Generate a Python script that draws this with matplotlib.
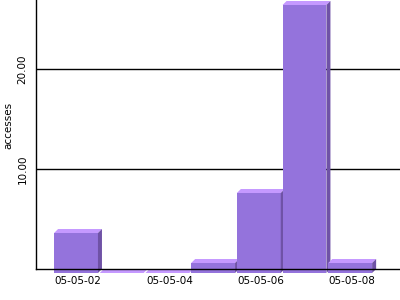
import matplotlib
matplotlib.use("Agg")
import matplotlib.pyplot as plt
from matplotlib.patches import Polygon, Rectangle

dates = ["05-05-02", "05-05-03", "05-05-04", "05-05-05", "05-05-06", "05-05-07", "05-05-08"]
accesses = [4, 0, 0, 1, 8, 26.8, 1]
y_ticks = [10, 20]

front = "#9473dc"
top = "#c599ff"
side = "#6f52a6"

fig = plt.figure(figsize=(4, 3), dpi=100)
ax = fig.add_axes([0.09, 31 / 300, 0.91, 269 / 300])
ax.set_xlim(-0.876, 7.09)
ax.set_ylim(0, 26.9)

# 3d depth, 4px each way
dx = 4 / 45.67
dy = 0.4
w = 0.96
for i, v in enumerate(accesses):
    x0 = i - w / 2
    x1 = i + w / 2
    ax.add_patch(Rectangle((x0, -dy), w, v, facecolor=front, edgecolor="none",
                           clip_on=False, zorder=2))
    ax.add_patch(Polygon([(x0, v - dy), (x0 + dx, v), (x1 + dx, v), (x1, v - dy)],
                         facecolor=top, edgecolor="none", clip_on=False, zorder=2))
    ax.add_patch(Polygon([(x1, -dy), (x1, v - dy), (x1 + dx, v), (x1 + dx, 0)],
                         facecolor=side, edgecolor="none", clip_on=False, zorder=2))

for t in y_ticks:
    ax.axhline(t, color="black", lw=1, zorder=1)

ax.spines["top"].set_visible(False)
ax.spines["right"].set_visible(False)
ax.spines["left"].set_linewidth(1)
ax.spines["bottom"].set_linewidth(1)
ax.spines["bottom"].set_zorder(3)

ax.set_yticks(y_ticks)
ax.set_yticklabels([f"{t:.2f}" for t in y_ticks], rotation=90, va="center", fontsize=7.5)
xt = list(range(0, len(dates), 2))
ax.set_xticks([i + dx / 2 for i in xt])
ax.set_xticklabels([dates[i] for i in xt], fontsize=7.5)
ax.tick_params(length=0)
ax.tick_params(axis="y", pad=6)
ax.tick_params(axis="x", pad=5)
ax.set_ylabel("accesses", fontsize=7.5)
ax.yaxis.set_label_coords(-0.062, 0.535)

plt.savefig("out.png")
